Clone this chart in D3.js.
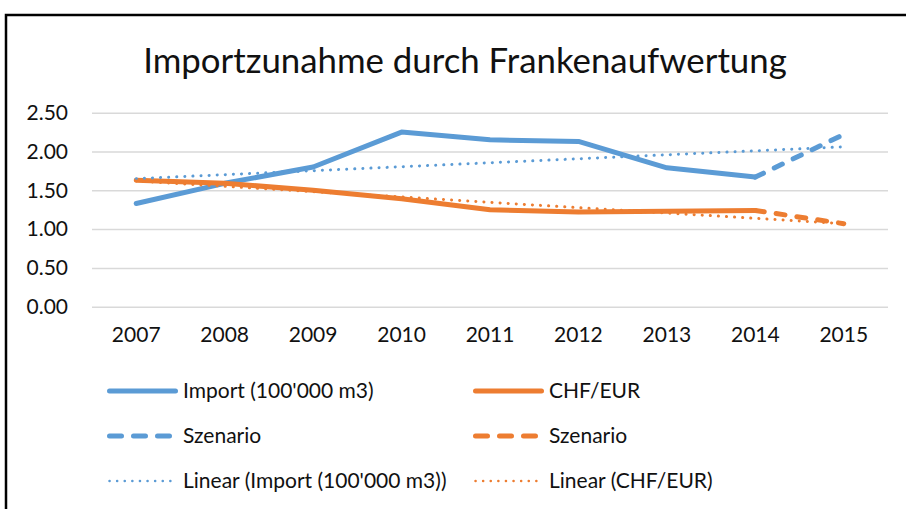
<!DOCTYPE html>
<html>
<head>
<meta charset="utf-8">
<script src="https://cdn.jsdelivr.net/npm/d3@7"></script>
<style>
  body { margin: 0; background: #fff; }
  svg { display: block; font-family: Lato, 'Noto Sans', sans-serif; }
</style>
</head>
<body>
<script>
// data
const years = ['2007', '2008', '2009', '2010', '2011', '2012', '2013', '2014', '2015'];
const importVals = [1.33, 1.59, 1.80, 2.25, 2.15, 2.13, 1.79, 1.67, null];
const chfVals = [1.63, 1.59, 1.50, 1.39, 1.25, 1.22, 1.23, 1.24, null];
const importScenario = [null, null, null, null, null, null, null, 1.67, 2.22];
const chfScenario = [null, null, null, null, null, null, null, 1.24, 1.07];
// trend line ends (2007 and 2015)
const importTrend = [1.65, 2.06];
const chfTrend = [1.62, 1.07];
const yTicks = [0, 0.5, 1, 1.5, 2, 2.5];
const legendNames = ['Import (100\'000 m3)', 'CHF/EUR', 'Szenario', 'Szenario',
  'Linear (Import (100\'000 m3))', 'Linear (CHF/EUR)'];

const w = 906, h = 509;
const blue = '#5b9bd5', orange = '#ed7d31';
const plotLeft = 92, plotRight = 888, plotTop = 112.7, plotBottom = 306.7;

const svg = d3.select('body').append('svg')
  .attr('width', w)
  .attr('height', h);

// outer frame
svg.append('rect')
  .attr('x', 6).attr('y', 15)
  .attr('width', 930).attr('height', 530)
  .attr('fill', '#fff')
  .attr('stroke', '#000')
  .attr('stroke-width', 2.5);

const title = svg.append('text')
  .attr('x', 465).attr('y', 73)
  .attr('text-anchor', 'middle')
  .attr('fill', '#111')
  .style('font-size', '40px')
  .text('Importzunahme durch Frankenaufwertung');
// scale title to the width seen in the picture
const tw = title.node().getComputedTextLength();
title.style('font-size', (40 * 644 / tw) + 'px');

const x = d3.scaleBand().domain(years).range([plotLeft, plotRight]);
const y = d3.scaleLinear().domain([0, 2.5]).range([plotBottom, plotTop]);

//grid
svg.append('g')
  .attr('transform', `translate(${plotLeft},0)`)
  .call(d3.axisLeft(y).tickValues(yTicks).tickSize(-(plotRight - plotLeft)).tickFormat(''))
  .call(g => g.select('.domain').remove())
  .call(g => g.selectAll('.tick line').attr('stroke', '#d9d9d9').attr('stroke-width', 1.5));

//y labels
svg.append('g')
  .attr('transform', `translate(${plotLeft},0)`)
  .call(d3.axisLeft(y).tickValues(yTicks).tickSize(0).tickPadding(24).tickFormat(d3.format('.2f')))
  .call(g => g.select('.domain').remove())
  .call(g => g.selectAll('text').attr('fill', '#111').style('font-size', '21px').style('font-family', 'Lato'));

//x labels
svg.append('g')
  .attr('transform', `translate(0,${plotBottom})`)
  .call(d3.axisBottom(x).tickSize(0).tickPadding(20))
  .call(g => g.select('.domain').remove())
  .call(g => g.selectAll('text').attr('fill', '#111').style('font-size', '21px').style('font-family', 'Lato'));

const line = d3.line()
  .defined(d => d[1] != null)
  .x(d => x(d[0]) + x.bandwidth() / 2)
  .y(d => y(d[1]));

const pairs = (vals) => years.map((yr, i) => [yr, vals[i]]);

const series = [
  { vals: importVals, color: blue, dash: null, width: 5 },
  { vals: chfVals, color: orange, dash: null, width: 5 },
  { vals: importScenario, color: blue, dash: '9,12', width: 5 },
  { vals: chfScenario, color: orange, dash: '9,12', width: 5 }
];

series.forEach(s => {
  svg.append('path')
    .datum(pairs(s.vals))
    .attr('d', line)
    .attr('fill', 'none')
    .attr('stroke', s.color)
    .attr('stroke-width', s.width)
    .attr('stroke-linecap', 'round')
    .attr('stroke-linejoin', 'round')
    .attr('stroke-dasharray', s.dash);
});

//trend lines
[[importTrend, blue], [chfTrend, orange]].forEach(([t, c]) => {
  svg.append('path')
    .datum([[years[0], t[0]], [years[years.length - 1], t[1]]])
    .attr('d', line)
    .attr('fill', 'none')
    .attr('stroke', c)
    .attr('stroke-width', 3)
    .attr('stroke-linecap', 'round')
    .attr('stroke-dasharray', '0.1,8');
});

//legend
const legendStyles = [
  { color: blue, dash: null, width: 5, len: 71 },
  { color: orange, dash: null, width: 5, len: 71 },
  { color: blue, dash: '12,12', width: 5, len: 65 },
  { color: orange, dash: '12,12', width: 5, len: 65 },
  { color: blue, dash: '0.1,7.5', width: 2.5, len: 69 },
  { color: orange, dash: '0.1,7.5', width: 2.5, len: 69 }
];
const colX = [107, 473];
const rowY = [391, 436, 481];

legendNames.forEach((name, i) => {
  const st = legendStyles[i];
  const lx = colX[i % 2];
  const ly = rowY[Math.floor(i / 2)];
  const g = svg.append('g').attr('class', 'legend-item');
  g.append('line')
    .attr('x1', lx + 2.5).attr('x2', lx + st.len - 2.5)
    .attr('y1', ly).attr('y2', ly)
    .attr('stroke', st.color)
    .attr('stroke-width', st.width)
    .attr('stroke-linecap', 'round')
    .attr('stroke-dasharray', st.dash);
  g.append('text')
    .attr('x', lx + 76)
    .attr('y', ly)
    .attr('dy', '0.35em')
    .attr('fill', '#111')
    .style('font-size', '21px')
    .text(name);
});
</script>
</body>
</html>
